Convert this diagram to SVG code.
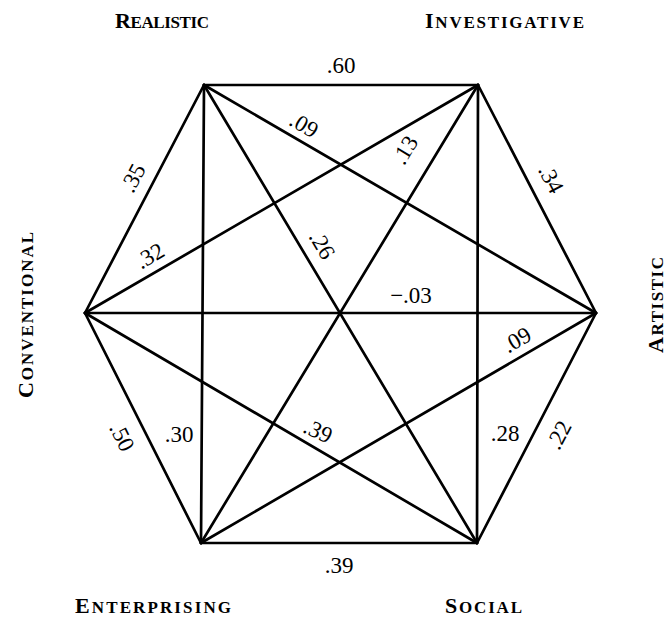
<svg xmlns="http://www.w3.org/2000/svg" width="670" height="618" viewBox="0 0 670 618">
<style>
.e{stroke:#000;stroke-width:2.7;stroke-linecap:round;fill:none}
.n{font-family:"Liberation Serif",serif;font-size:23px;fill:#000;text-anchor:middle;dominant-baseline:central}
.t{font-family:"Liberation Serif",serif;font-weight:bold;font-size:22px;fill:#000}
.s{font-size:17px}
</style>
<rect width="670" height="618" fill="#fff"/>
<g id="connectors">
<line class="e" x1="204" y1="85" x2="478" y2="85"/>
<line class="e" x1="478" y1="85" x2="596" y2="313"/>
<line class="e" x1="596" y1="313" x2="477" y2="543"/>
<line class="e" x1="477" y1="543" x2="201" y2="543"/>
<line class="e" x1="201" y1="543" x2="85" y2="313"/>
<line class="e" x1="85" y1="313" x2="204" y2="85"/>
<line class="e" x1="204" y1="85" x2="477" y2="543"/>
<line class="e" x1="478" y1="85" x2="201" y2="543"/>
<line class="e" x1="85" y1="313" x2="596" y2="313"/>
<line class="e" x1="204" y1="85" x2="596" y2="313"/>
<line class="e" x1="478" y1="85" x2="477" y2="543"/>
<line class="e" x1="596" y1="313" x2="201" y2="543"/>
<line class="e" x1="477" y1="543" x2="85" y2="313"/>
<line class="e" x1="201" y1="543" x2="204" y2="85"/>
<line class="e" x1="85" y1="313" x2="478" y2="85"/>
<text class="n" transform="translate(341,65)">.60</text>
<text class="n" transform="translate(304,125) rotate(30.2)">.09</text>
<text class="n" transform="translate(405,150) rotate(-58.8)">.13</text>
<text class="n" transform="translate(551,179) rotate(62.6)">.34</text>
<text class="n" transform="translate(133,178) rotate(-62.4)">.35</text>
<text class="n" transform="translate(150,256) rotate(-30.1)">.32</text>
<text class="n" transform="translate(322,245) rotate(59.2)">.26</text>
<text class="n" transform="translate(411,295)">−.03</text>
<text class="n" transform="translate(517,340) rotate(-30.2)">.09</text>
<text class="n" transform="translate(122,437) rotate(63.2)">.50</text>
<text class="n" transform="translate(179,434)">.30</text>
<text class="n" transform="translate(318,431) rotate(25)">.39</text>
<text class="n" transform="translate(505,433)">.28</text>
<text class="n" transform="translate(559,435) rotate(-62.6)">.22</text>
<text class="n" transform="translate(339,565)">.39</text>
</g>
<g id="realistic"><text class="t" x="115" y="28" textLength="94" lengthAdjust="spacing">R<tspan class="s">EALISTIC</tspan></text></g>
<g id="investigative"><text class="t" x="425" y="28" textLength="159" lengthAdjust="spacing">I<tspan class="s">NVESTIGATIVE</tspan></text></g>
<g id="artistic"><text class="t" transform="translate(663,353) rotate(-90)" textLength="96" lengthAdjust="spacing">A<tspan class="s">RTISTIC</tspan></text></g>
<g id="social"><text class="t" x="445" y="613" textLength="77" lengthAdjust="spacing">S<tspan class="s">OCIAL</tspan></text></g>
<g id="enterprising"><text class="t" x="75" y="613" textLength="156" lengthAdjust="spacing">E<tspan class="s">NTERPRISING</tspan></text></g>
<g id="conventional"><text class="t" transform="translate(33,398) rotate(-90)" textLength="166" lengthAdjust="spacing">C<tspan class="s">ONVENTIONAL</tspan></text></g>
</svg>
